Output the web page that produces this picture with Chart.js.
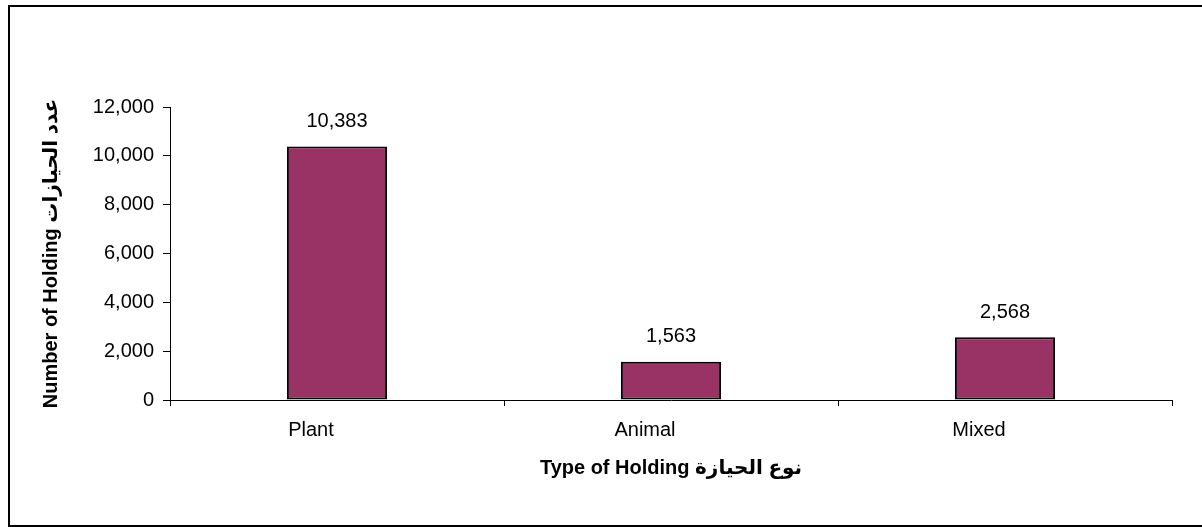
<!DOCTYPE html>
<html>
<head>
<meta charset="utf-8">
<script src="https://cdn.jsdelivr.net/npm/chart.js@4/dist/chart.umd.min.js"></script>
<style>
  body { margin: 0; background: #fff; }
  #holdingChart { display: block; }
</style>
</head>
<body>
<canvas id="holdingChart" width="1202" height="527"></canvas>
<script>
// data
const categories = ['Plant', 'Animal', 'Mixed'];
const holdings = [10383, 1563, 2568];
const yTicks = [0, 2000, 4000, 6000, 8000, 10000, 12000];

const xTitle = 'Type of Holding نوع الحيازة';
const yTitle = 'Number of Holding عدد الحيازات';

const fontFamily = '"Liberation Sans", Arial, "DejaVu Sans", sans-serif';

// white page + black frame round the chart
const framePlugin = {
    id: 'frame',
    beforeDraw(chart) {
        const ctx = chart.ctx;
        ctx.save();
        ctx.fillStyle = '#ffffff';
        ctx.fillRect(0, 0, chart.width, chart.height);
        ctx.restore();
    },
    afterDraw(chart) {
        const ctx = chart.ctx;
        ctx.save();
        ctx.strokeStyle = '#000000';
        ctx.lineWidth = 2;
        ctx.strokeRect(9, 6, 1200, 520);
        ctx.restore();
    }
};

// numbers above each bar
const valueLabels = {
    id: 'valueLabels',
    afterDatasetsDraw(chart) {
        const ctx = chart.ctx;
        const meta = chart.getDatasetMeta(0);
        ctx.save();
        ctx.fillStyle = '#000000';
        ctx.font = '20px ' + fontFamily;
        ctx.textAlign = 'center';
        ctx.textBaseline = 'middle';
        meta.data.forEach(function (bar, i) {
            ctx.fillText(holdings[i].toLocaleString('en-US'), bar.x, bar.y - 25);
        });
        ctx.restore();
    }
};

const ctx = document.getElementById('holdingChart');
const holdingChart = new Chart(ctx, {
    type: 'bar',
    data: {
        labels: categories,
        datasets: [{
            label: 'Holdings',
            data: holdings,
            backgroundColor: '#993366',
            borderColor: '#000000',
            borderWidth: 2,
            borderSkipped: false,
            barPercentage: 0.3,
            categoryPercentage: 1.0
        }]
    },
    options: {
        responsive: false,
        animation: false,
        layout: {
            padding: { top: 107, right: 30, bottom: 0, left: 0 }
        },
        plugins: {
            legend: { display: false },
            tooltip: { enabled: false }
        },
        scales: {
            x: {
                offset: true,
                afterFit(scale) { scale.height = 127; },
                border: { display: true, color: '#000000', width: 1 },
                grid: {
                    offset: true,
                    drawOnChartArea: false,
                    color: '#000000',
                    tickLength: 6
                },
                ticks: {
                    color: '#000000',
                    padding: 12,
                    labelOffset: -26,
                    font: { family: fontFamily, size: 20 }
                },
                title: {
                    display: true,
                    text: xTitle,
                    color: '#000000',
                    padding: { top: 0, bottom: 47 },
                    font: { family: fontFamily, size: 20, weight: 'bold' }
                }
            },
            y: {
                min: 0,
                max: 12000,
                afterFit(scale) { scale.width = 170; },
                afterBuildTicks(scale) {
                    scale.ticks = yTicks.map(v => ({ value: v }));
                },
                border: { display: true, color: '#000000', width: 1 },
                grid: {
                    drawOnChartArea: false,
                    color: '#000000',
                    tickLength: 7
                },
                ticks: {
                    color: '#000000',
                    padding: 9,
                    font: { family: fontFamily, size: 20 },
                    callback: v => v.toLocaleString('en-US')
                },
                title: {
                    display: true,
                    text: yTitle,
                    color: '#000000',
                    padding: { top: 39, bottom: 0 },
                    font: { family: fontFamily, size: 20, weight: 'bold' }
                }
            }
        }
    },
    plugins: [framePlugin, valueLabels]
});
</script>
</body>
</html>
